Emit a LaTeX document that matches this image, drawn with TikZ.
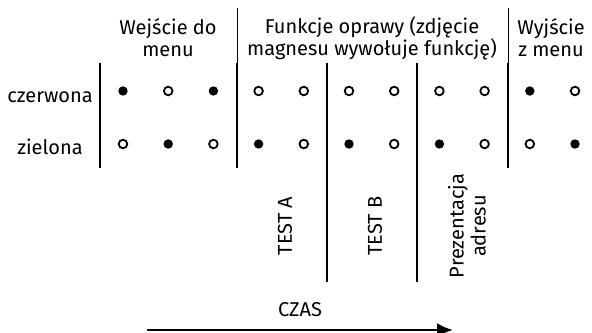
\documentclass[tikz,border=0pt]{standalone}
\usepackage{fontspec}
\setmainfont{Fira Sans}
\usetikzlibrary{arrows.meta}
\tikzstyle{every node}=[font=\fontsize{10}{11}\selectfont]
\tikzstyle{on dot}=[circle,fill=black,inner sep=0pt,minimum size=4.7pt]
\tikzstyle{off dot}=[circle,draw=black,line width=0.9pt,fill=white,inner sep=0pt,minimum size=4.3pt]
\tikzstyle{sep}=[line width=1.25pt]
\tikzstyle{thin sep}=[line width=0.5pt]

\begin{document}
\begin{tikzpicture}[x=0.5pt,y=-0.5pt]
\useasboundingbox (0,0) rectangle (592,332);
% headers
\node[align=center] (wej) at (168,38) {Wejście do\\menu};
\node[align=center] (fun) at (372,38) {Funkcje oprawy (zdjęcie\\magnesu wywołuje funkcję)};
\node[align=center] (wyj) at (551,38) {Wyjście\\z menu};
% row labels
\node[anchor=base] (czer) at (50,102) {czerwona};
\node[anchor=base] (ziel) at (50,154) {zielona};
% dots
\foreach \r/\g [count=\i] in {1/0,0/1,1/0,0/1,0/0,0/1,0/0,0/1,0/0,1/0,0/1} {
  \pgfmathsetmacro\xx{123+45.2*(\i-1)}
  \ifnum\r=1 \node[on dot] (r\i) at (\xx,91) {}; \else \node[off dot] (r\i) at (\xx,91) {}; \fi
  \ifnum\g=1 \node[on dot] (g\i) at (\xx,144) {}; \else \node[off dot] (g\i) at (\xx,144) {}; \fi
}
% separators
\draw[sep] (100,63) -- (100,168);
\draw[sep] (237,63) -- (237,168);
\draw[sep] (508,63) -- (508,168);
\draw[sep] (327,63) -- (327,282);
\draw[sep] (417,63) -- (417,282);
\draw[thin sep] (237,8) -- (237,63);
\draw[thin sep] (508,8) -- (508,63);
% functions
\node[rotate=90] (ta) at (285,226) {TEST A};
\node[rotate=90] (tb) at (375,226) {TEST B};
\node[rotate=90,align=center] (adr) at (467,226) {Prezentacja\\adresu};
% time
\node[anchor=base] (czas) at (300,316) {CZAS};
\coordinate (t0) at (147,330);
\coordinate (t1) at (453,330);
\draw[sep,-{Latex[length=8pt,width=7pt]}] (t0) -- (t1);
\end{tikzpicture}
\end{document}
